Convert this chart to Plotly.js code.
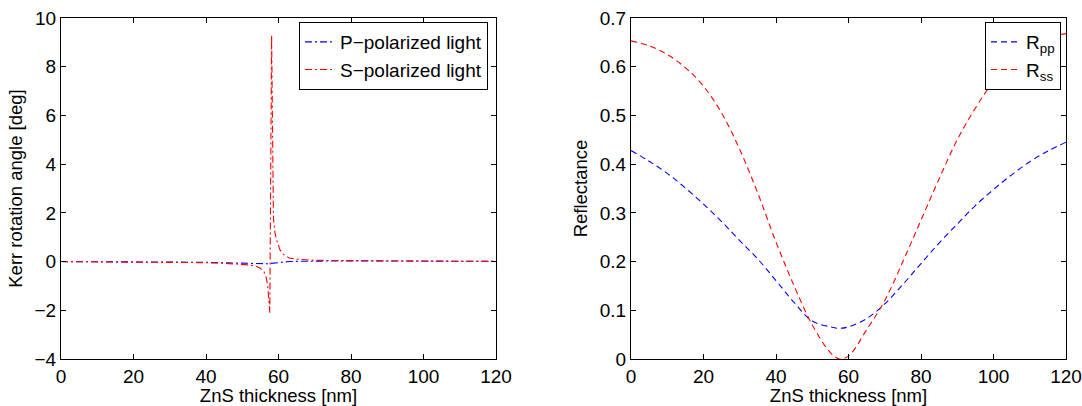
<!DOCTYPE html>
<html>
<head>
<meta charset="utf-8">
<script src="https://cdn.plot.ly/plotly-3.0.1.min.js"></script>
<style>html,body{margin:0;padding:0;background:#fff;}#chart{width:1082px;height:406px;}</style>
</head>
<body>
<div id="chart"></div>
<script>
// Left panel: Kerr rotation angle vs ZnS thickness
const kerrThickness = [0, 10, 20, 30, 35, 40, 45, 48, 50, 52, 54, 55, 56, 56.5, 57, 57.3, 57.6, 58.1, 58.6, 59.0, 59.5, 60.4, 61.5, 63, 65, 70, 75, 80, 90, 100, 110, 120];
const kerrP = [0, 0, -0.005, -0.01, -0.02, -0.03, -0.05, -0.065, -0.08, -0.09, -0.1, -0.1, -0.1, -0.095, -0.09, -0.085, -0.08, -0.07, -0.06, -0.05, -0.04, -0.03, -0.015, 0, 0.01, 0.025, 0.03, 0.03, 0.025, 0.02, 0.015, 0.01];
const kerrS = [0, -0.005, -0.01, -0.02, -0.03, -0.045, -0.07, -0.09, -0.11, -0.14, -0.2, -0.27, -0.42, -0.6, -0.95, -1.4, -2.1, 9.3, 1.8, 1.2, 0.88, 0.48, 0.28, 0.15, 0.1, 0.05, 0.04, 0.03, 0.02, 0.015, 0.01, 0.01];

// Right panel: reflectance vs ZnS thickness
const reflThickness = [0, 5, 10, 15, 20, 25, 30, 35, 40, 45, 50, 55, 57.5, 60, 65, 70, 75, 80, 85, 90, 95, 100, 105, 110, 115, 120];
const Rpp = [0.428, 0.406, 0.381, 0.351, 0.318, 0.282, 0.243, 0.205, 0.161, 0.116, 0.078, 0.066, 0.063, 0.066, 0.083, 0.113, 0.153, 0.196, 0.238, 0.277, 0.315, 0.348, 0.378, 0.405, 0.427, 0.445];
const Rss = [0.653, 0.643, 0.625, 0.598, 0.560, 0.505, 0.430, 0.340, 0.240, 0.150, 0.070, 0.013, 0.0, 0.006, 0.060, 0.120, 0.200, 0.285, 0.370, 0.450, 0.515, 0.570, 0.612, 0.642, 0.660, 0.668];

const xTicks = [0, 20, 40, 60, 80, 100, 120];
const kerrTicks = [-4, -2, 0, 2, 4, 6, 8, 10];
const reflTicks = [0, 0.1, 0.2, 0.3, 0.4, 0.5, 0.6, 0.7];

const FONT = 'Liberation Sans, Arial, Helvetica, sans-serif';
const FS = 19;
const TFS = 18.5;

const traces = [
  {x: kerrThickness, y: kerrP, type: 'scatter', mode: 'lines', name: 'P\u2212polarized light',
   line: {color: '#0000ff', width: 1.1, dash: '7px,3px,2px,3px'}, xaxis: 'x', yaxis: 'y', legend: 'legend'},
  {x: kerrThickness, y: kerrS, type: 'scatter', mode: 'lines', name: 'S\u2212polarized light',
   line: {color: '#ff0000', width: 1.1, dash: '7px,3px,2px,3px'}, xaxis: 'x', yaxis: 'y', legend: 'legend'},
  {x: reflThickness, y: Rpp, type: 'scatter', mode: 'lines', name: 'R<sub>pp</sub>',
   line: {color: '#0000ff', width: 1.1, dash: '6px,4px', shape: 'spline', smoothing: 1}, xaxis: 'x2', yaxis: 'y2', legend: 'legend2'},
  {x: reflThickness, y: Rss, type: 'scatter', mode: 'lines', name: 'R<sub>ss</sub>',
   line: {color: '#ff0000', width: 1.1, dash: '6px,4px', shape: 'spline', smoothing: 1}, xaxis: 'x2', yaxis: 'y2', legend: 'legend2'}
];

const axBase = {
  showline: true, linecolor: '#000', linewidth: 1, mirror: 'ticks',
  ticks: 'inside', ticklen: 5, tickcolor: '#000', tickwidth: 1,
  showgrid: false, zeroline: false,
  tickfont: {family: FONT, size: FS, color: '#000'}
};
const yDom = [(406 - 359) / 406, (406 - 18) / 406];

const layout = {
  width: 1082, height: 406,
  margin: {l: 0, r: 0, t: 0, b: 0},
  paper_bgcolor: '#fff', plot_bgcolor: '#fff',
  font: {family: FONT, size: FS, color: '#000'},
  showlegend: true,
  xaxis: Object.assign({}, axBase, {domain: [61 / 1082, 496 / 1082], range: [0, 120], tickvals: xTicks, anchor: 'y',
    title: {text: 'ZnS thickness [nm]', font: {family: FONT, size: TFS}, standoff: 1}}),
  yaxis: Object.assign({}, axBase, {domain: yDom, range: [-4, 10], tickvals: kerrTicks, anchor: 'x',
    title: {text: 'Kerr rotation angle [deg]', font: {family: FONT, size: TFS}, standoff: 7}}),
  xaxis2: Object.assign({}, axBase, {domain: [631 / 1082, 1066 / 1082], range: [0, 120], tickvals: xTicks, anchor: 'y2',
    title: {text: 'ZnS thickness [nm]', font: {family: FONT, size: TFS}, standoff: 1}}),
  yaxis2: Object.assign({}, axBase, {domain: yDom, range: [0, 0.7], tickvals: reflTicks, anchor: 'x2',
    title: {text: 'Reflectance', font: {family: FONT, size: TFS}, standoff: 7}}),
  legend: {x: 488 / 1082, xanchor: 'right', y: (406 - 22) / 406, yanchor: 'top',
    bordercolor: '#000', borderwidth: 1, bgcolor: '#fff', font: {family: FONT, size: FS}, tracegroupgap: 0},
  legend2: {x: 1061 / 1082, xanchor: 'right', y: (406 - 22) / 406, yanchor: 'top',
    bordercolor: '#000', borderwidth: 1, bgcolor: '#fff', font: {family: FONT, size: FS}, tracegroupgap: 0}
};

Plotly.newPlot('chart', traces, layout, {displayModeBar: false, staticPlot: true});
</script>
</body>
</html>
